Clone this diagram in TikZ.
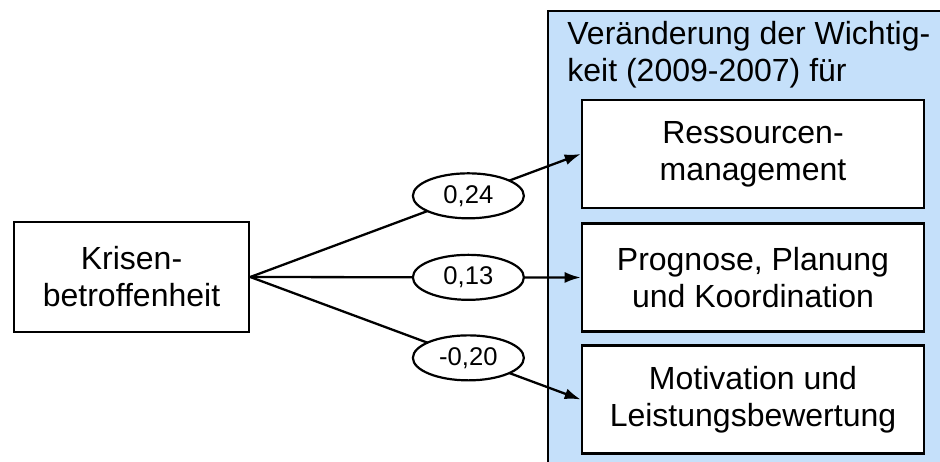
\documentclass[tikz,border=0pt]{standalone}
\usepackage{fontspec}
\setmainfont{Liberation Sans}
\usetikzlibrary{arrows.meta,shapes.geometric}
\definecolor{paleblue}{RGB}{197,224,250}
\begin{document}
\begin{tikzpicture}[x=0.5pt,y=-0.5pt,
  bigfont/.style={font=\fontsize{16}{18.5}\selectfont},
  box/.style={draw=black, line width=1.3pt, fill=white, rectangle, align=center, inner sep=0pt, bigfont},
  lab/.style={draw=black, line width=1.1pt, fill=white, ellipse, minimum width=55.5pt, minimum height=22.5pt, inner sep=0pt, font=\fontsize{12.8}{15}\selectfont},
  conn/.style={line width=1.15pt, -{Latex[length=8pt,width=5.5pt]}},
  ttl/.style={anchor=base west, inner sep=0pt, bigfont}]
\useasboundingbox (0,0) rectangle (940,461);
\clip (0,0) rectangle (940,461);
\draw[line width=1.3pt, fill=paleblue] (548,11) rectangle (960,480);
\node[ttl] (ttl1) at (567,44) {Veränderung der Wichtig-};
\node[ttl] (ttl2) at (567,81) {keit (2009-2007) für};
\node[box, minimum width=117.5pt, minimum height=55pt] (kr) at (131.5,277) {Krisen-\\betroffenheit};
\node[box, minimum width=171pt, minimum height=54pt] (b1) at (753,154) {Ressourcen-\\management};
\node[box, minimum width=171pt, minimum height=54pt] (b2) at (753,277.5) {Prognose, Planung\\und Koordination};
\node[box, minimum width=171pt, minimum height=54pt] (b3) at (753,399.5) {Motivation und\\Leistungsbewertung};
\draw[conn] (kr.east) -- node[lab, pos=0.66] (l1) {0,24} (b1.west);
\draw[conn] (kr.east) -- node[lab, pos=0.66] (l2) {0,13} (b2.west);
\draw[conn] (kr.east) -- node[lab, pos=0.66] (l3) {-0,20} (b3.west);
\end{tikzpicture}
\end{document}
